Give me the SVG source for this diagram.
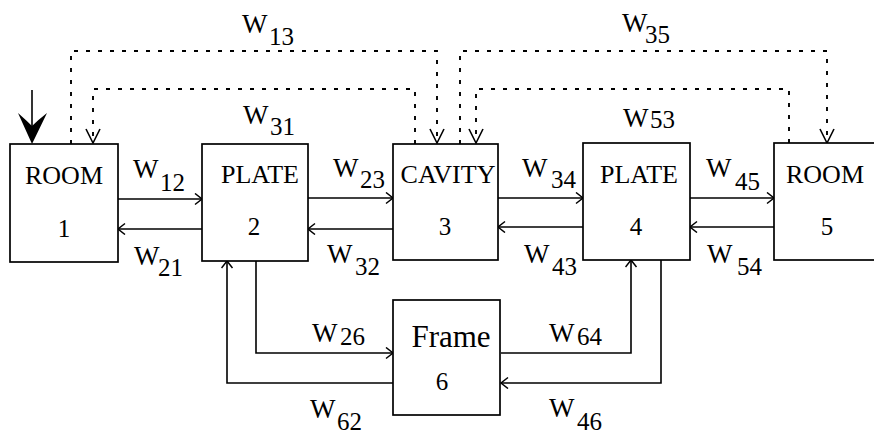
<svg xmlns="http://www.w3.org/2000/svg" width="874" height="437" viewBox="0 0 874 437">
<defs>
<style>
.box{fill:#fff;stroke:#000;stroke-width:1.7}
.ln{fill:none;stroke:#000;stroke-width:1.6}
.dot{fill:none;stroke:#000;stroke-width:1.9;stroke-dasharray:4 8}
text{font-family:"Liberation Serif","Times New Roman",serif;fill:#000}
.lw{font-size:27px}
.ls{font-size:25px}
.bt{font-size:26px}
.bn{font-size:25px}
</style>
<marker id="ah" markerUnits="userSpaceOnUse" markerWidth="12" markerHeight="14" refX="8" refY="6" orient="auto">
<path d="M1,0.5 L8,6 L1,11.5" fill="none" stroke="#000" stroke-width="1.5" stroke-dasharray="none"/>
</marker>
<marker id="dh" markerUnits="userSpaceOnUse" markerWidth="18" markerHeight="18" refX="15" refY="8" orient="auto">
<path d="M1,1 L15,8 L1,15" fill="none" stroke="#000" stroke-width="1.6" stroke-dasharray="none"/>
</marker>
</defs>
<rect width="874" height="437" fill="#fff"/>

<g id="connectors">
<line x1="32" y1="90" x2="32" y2="128" class="ln" stroke-width="2"/>
<path d="M32,144 L18,113 Q26,120 32,126 Q38,120 47,113 Z" fill="#000"/>
<line x1="118" y1="199" x2="202" y2="199" class="ln" marker-end="url(#ah)"/>
<line x1="202" y1="229" x2="118" y2="229" class="ln" marker-end="url(#ah)"/>
<line x1="308" y1="198" x2="393" y2="198" class="ln" marker-end="url(#ah)"/>
<line x1="393" y1="229" x2="308" y2="229" class="ln" marker-end="url(#ah)"/>
<line x1="498" y1="198" x2="583" y2="198" class="ln" marker-end="url(#ah)"/>
<line x1="583" y1="227" x2="498" y2="227" class="ln" marker-end="url(#ah)"/>
<line x1="690" y1="198" x2="774" y2="198" class="ln" marker-end="url(#ah)"/>
<line x1="774" y1="227" x2="690" y2="227" class="ln" marker-end="url(#ah)"/>
<polyline points="256,261 256,353 393,353" class="ln" marker-end="url(#ah)"/>
<polyline points="393,383 227,383 227,261" class="ln" marker-end="url(#ah)"/>
<polyline points="501,353 631,353 631,260" class="ln" marker-end="url(#ah)"/>
<polyline points="661,260 661,383 501,383" class="ln" marker-end="url(#ah)"/>
<polyline points="71,144 71,51 437,51 437,143" class="dot" marker-end="url(#dh)"/>
<polyline points="415,144 415,89 93,89 93,143" class="dot" marker-end="url(#dh)"/>
<polyline points="460,144 460,51 827,51 827,143" class="dot" marker-end="url(#dh)"/>
<polyline points="789,143 789,89 476,89 476,143" class="dot" marker-end="url(#dh)"/>
</g>

<g id="node1">
<rect x="10" y="144" width="108" height="118" class="box"/>
<text x="64" y="184" class="bt" text-anchor="middle">ROOM</text>
<text x="64" y="237" class="bn" text-anchor="middle">1</text>
</g>
<g id="node2">
<rect x="202" y="144" width="106" height="117" class="box"/>
<text x="260" y="183" class="bt" text-anchor="middle">PLATE</text>
<text x="254" y="235" class="bn" text-anchor="middle">2</text>
</g>
<g id="node3">
<rect x="393" y="144" width="105" height="116" class="box"/>
<text x="448" y="183" class="bt" text-anchor="middle">CAVITY</text>
<text x="445" y="235" class="bn" text-anchor="middle">3</text>
</g>
<g id="node4">
<rect x="583" y="143" width="107" height="117" class="box"/>
<text x="639" y="183" class="bt" text-anchor="middle">PLATE</text>
<text x="636" y="235" class="bn" text-anchor="middle">4</text>
</g>
<g id="node5">
<rect x="774" y="143" width="120" height="117" class="box"/>
<text x="825" y="183" class="bt" text-anchor="middle">ROOM</text>
<text x="827" y="235" class="bn" text-anchor="middle">5</text>
</g>
<g id="node6">
<rect x="393" y="300" width="107" height="115" class="box"/>
<text x="451" y="347" font-size="31" text-anchor="middle">Frame</text>
<text x="442" y="390" class="bn" text-anchor="middle">6</text>
</g>

<g id="labels">
<text x="242" y="33" class="lw">W</text><text x="269" y="45" class="ls">13</text>
<text x="622" y="32" class="lw">W</text><text x="645" y="43" class="ls">35</text>
<text x="243" y="124" class="lw">W</text><text x="270" y="135" class="ls">31</text>
<text x="623" y="127" class="lw">W</text><text x="650" y="128" class="ls">53</text>
<text x="133" y="178" class="lw">W</text><text x="160" y="191" class="ls">12</text>
<text x="333" y="177" class="lw">W</text><text x="360" y="188" class="ls">23</text>
<text x="522" y="177" class="lw">W</text><text x="551" y="188" class="ls">34</text>
<text x="706" y="177" class="lw">W</text><text x="735" y="190" class="ls">45</text>
<text x="134" y="265" class="lw">W</text><text x="158" y="276" class="ls">21</text>
<text x="327" y="263" class="lw">W</text><text x="355" y="275" class="ls">32</text>
<text x="524" y="263" class="lw">W</text><text x="552" y="275" class="ls">43</text>
<text x="707" y="263" class="lw">W</text><text x="737" y="275" class="ls">54</text>
<text x="312" y="342" class="lw">W</text><text x="340" y="345" class="ls">26</text>
<text x="310" y="418" class="lw">W</text><text x="337" y="430" class="ls">62</text>
<text x="549" y="342" class="lw">W</text><text x="577" y="345" class="ls">64</text>
<text x="549" y="417" class="lw">W</text><text x="577" y="430" class="ls">46</text>
</g>
</svg>
